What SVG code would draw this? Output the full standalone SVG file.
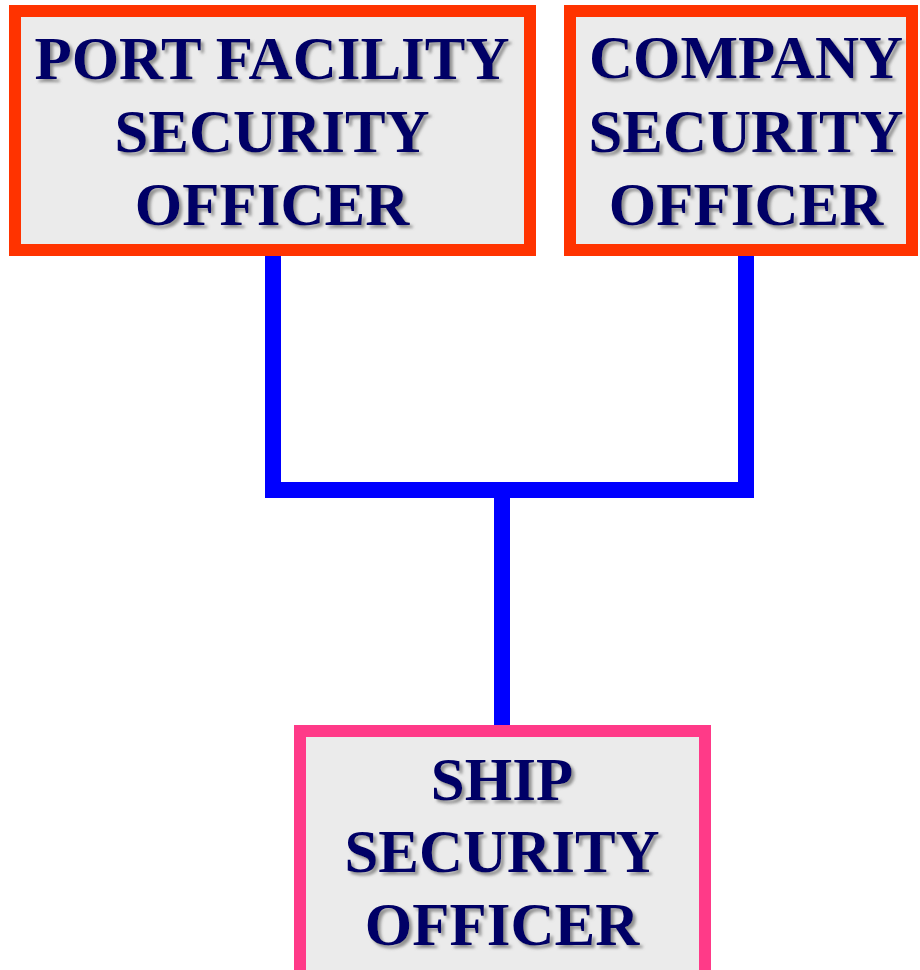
<svg xmlns="http://www.w3.org/2000/svg" width="920" height="970" viewBox="0 0 920 970">
<defs>
<filter id="sh" x="-10%" y="-20%" width="120%" height="140%">
<feDropShadow dx="3" dy="3" stdDeviation="1.5" flood-color="#7a7a7a" flood-opacity="0.8"/>
</filter>
</defs>
<style>
.box{fill:#EBEBEB;stroke-width:12}
.red{stroke:#FF3300}
.pink{stroke:#FF3A88}
.lbl{font-family:"Liberation Serif","Times New Roman",serif;font-weight:bold;font-size:61px;fill:#000066;text-anchor:middle;filter:url(#sh)}
.conn{fill:none;stroke:#0000FF;stroke-width:16}
</style>
<rect width="920" height="970" fill="#FFFFFF"/>
<g id="connectors">
<path class="conn" d="M273,250 V490 H746 V250"/>
<path class="conn" d="M502,490 V731"/>
</g>
<g id="pfso">
<rect class="box red" x="15" y="11" width="515" height="239"/>
<text class="lbl" x="272" y="79">PORT FACILITY</text>
<text class="lbl" x="272" y="152">SECURITY</text>
<text class="lbl" x="272" y="225">OFFICER</text>
</g>
<g id="cso">
<rect class="box red" x="570" y="11" width="342" height="239"/>
<text class="lbl" x="746" y="78">COMPANY</text>
<text class="lbl" x="746" y="152">SECURITY</text>
<text class="lbl" x="746" y="225">OFFICER</text>
</g>
<g id="sso">
<rect class="box pink" x="300" y="731" width="405" height="245"/>
<text class="lbl" x="502" y="800">SHIP</text>
<text class="lbl" x="502" y="872">SECURITY</text>
<text class="lbl" x="502" y="945">OFFICER</text>
</g>
</svg>
